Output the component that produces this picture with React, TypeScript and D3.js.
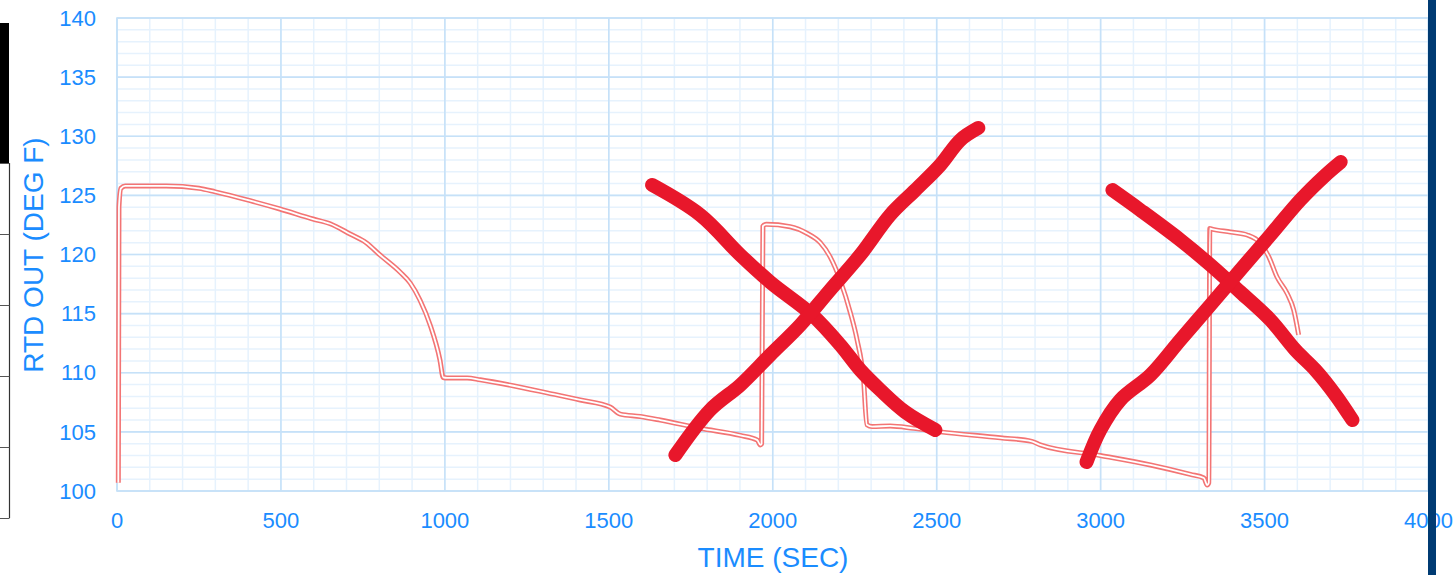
import React from 'react'
import * as d3 from 'd3'

const width = 1455
const height = 575
const margin = { top: 18, right: 26.5, bottom: 84, left: 117 }

// RTD trace
const timeSec = [
  4, 6, 12, 25, 150, 250, 300, 406, 497, 598, 650, 711, 760, 802, 863, 894, 924, 955, 985, 995,
  1007, 1068, 1108, 1208, 1312, 1413, 1504, 1535, 1596, 1657, 1779, 1901, 1953, 1962, 1966,
  1970, 1980, 2053, 2104, 2145, 2175, 2206, 2237, 2257, 2277, 2287, 2303, 2358, 2429, 2511,
  2694, 2790, 2816, 2999, 3152, 3274, 3315, 3325, 3330, 3333, 3340, 3396, 3447, 3487, 3513,
  3538, 3569, 3589, 3604,
]
const rtdOut = [
  100.7, 124, 125.6, 125.8, 125.8, 125.6, 125.3, 124.55, 123.85, 123.0, 122.6, 121.73, 121.0,
  119.96, 118.52, 117.6, 116.15, 114.04, 111.08, 109.6, 109.56, 109.56, 109.4, 108.9, 108.3,
  107.7, 107.1, 106.5, 106.3, 106.0, 105.3, 104.7, 104.3, 103.9, 104.0, 122.4, 122.55, 122.35,
  121.8, 121.0, 119.8, 117.8, 115.05, 112.8, 109.4, 105.6, 105.45, 105.5, 105.3, 105.0, 104.5,
  104.2, 103.9, 103.0, 102.2, 101.4, 101.1, 100.5, 100.7, 122.2, 122.15, 121.9, 121.65, 120.97,
  119.8, 118.1, 116.7, 115.3, 113.2,
]

// hand-drawn red crosses (data units)
const cross1DownT = [1632, 1779, 1901, 1992, 2121, 2206, 2267, 2328, 2404, 2496]
const cross1DownV = [125.88, 123.34, 119.96, 117.67, 114.88, 112.35, 110.23, 108.54, 106.68, 105.16]
const cross1UpT = [1703, 1809, 1901, 1992, 2084, 2175, 2267, 2358, 2435, 2511, 2572, 2627]
const cross1UpV = [103.04, 106.85, 108.96, 111.5, 114.04, 117.0, 119.96, 123.34, 125.45, 127.57, 129.68, 130.7]
const cross2DownT = [3036, 3121, 3243, 3335, 3426, 3518, 3594, 3655, 3716, 3768]
const cross2DownV = [125.45, 123.76, 121.23, 119.11, 116.83, 114.46, 111.92, 110.23, 108.12, 106.0]
const cross2UpT = [2957, 2999, 3060, 3152, 3243, 3335, 3426, 3518, 3609, 3686, 3732]
const cross2UpV = [102.45, 105.16, 107.7, 109.81, 112.77, 115.73, 118.69, 121.65, 124.61, 126.72, 127.82]

const xTicks = [0, 500, 1000, 1500, 2000, 2500, 3000, 3500, 4000]
const yTicks = [100, 105, 110, 115, 120, 125, 130, 135, 140]

const blue = '#1a8cff'
const font = 'Liberation Sans, Arial, sans-serif'

const App = () => {
  const x = d3.scaleLinear().domain([0, 4000]).range([margin.left, width - margin.right])
  const y = d3.scaleLinear().domain([100, 140]).range([height - margin.bottom, margin.top])

  const line = d3
    .line<number>()
    .x((d, i) => x(timeSec[i]))
    .y((d) => y(d))
    .curve(d3.curveMonotoneX)
  const tracePath = line(rtdOut)

  const crossLine = (ts: number[], vs: number[]) =>
    d3
      .line<number>()
      .x((d, i) => x(ts[i]))
      .y((d) => y(d))
      .curve(d3.curveCatmullRom)(vs)

  const minorX = d3.range(0, 4001, 100)
  const minorY = d3.range(100, 141, 1)
  const tableRows = d3.range(0, 6)

  return (
    <svg
      width={width}
      height={height}
      style={{ position: 'absolute', left: 0, top: 0, background: '#fff' }}
    >
      {/* left table fragment */}
      <rect x={0} y={23} width={9} height={140} fill="#000" />
      <line x1={9.5} x2={9.5} y1={163} y2={518} stroke="#333" strokeWidth={1.2} />
      {tableRows.map((i) => (
        <line key={i} x1={0} x2={9.5} y1={163.5 + i * 71} y2={163.5 + i * 71} stroke="#555" strokeWidth={1} />
      ))}

      {/* grid */}
      <g>
        {minorX.map((t) => (
          <line key={'mx' + t} x1={x(t)} x2={x(t)} y1={y(140)} y2={y(100)} stroke="#e6f2fd" strokeWidth={1.5} />
        ))}
        {minorY.map((v) => (
          <line key={'my' + v} x1={x(0)} x2={x(4000)} y1={y(v)} y2={y(v)} stroke="#e6f2fd" strokeWidth={1.5} />
        ))}
        {xTicks.map((t) => (
          <line key={'Mx' + t} x1={x(t)} x2={x(t)} y1={y(140)} y2={y(100)} stroke="#c6e1f8" strokeWidth={1.6} />
        ))}
        {yTicks.map((v) => (
          <line key={'My' + v} x1={x(0)} x2={x(4000)} y1={y(v)} y2={y(v)} stroke="#c6e1f8" strokeWidth={1.6} />
        ))}
        <rect
          x={x(0)}
          y={y(140)}
          width={x(4000) - x(0)}
          height={y(100) - y(140)}
          fill="none"
          stroke="#c6e1f8"
          strokeWidth={1.6}
        />
      </g>

      {/* trace drawn as a double line */}
      <path d={tracePath || ''} fill="none" stroke="#f37474" strokeWidth={5} strokeLinejoin="round" />
      <path d={tracePath || ''} fill="none" stroke="#fff" strokeWidth={1.8} strokeLinejoin="round" />

      {/* tick labels */}
      {yTicks.map((v) => (
        <text
          key={'yt' + v}
          x={96}
          y={y(v)}
          dy="0.35em"
          textAnchor="end"
          fill={blue}
          fontFamily={font}
          fontSize={22}
        >
          {v}
        </text>
      ))}
      {xTicks.map((t) => (
        <text key={'xt' + t} x={x(t)} y={528} textAnchor="middle" fill={blue} fontFamily={font} fontSize={22}>
          {t}
        </text>
      ))}

      {/* axis titles */}
      <text x={773} y={567} textAnchor="middle" fill={blue} fontFamily={font} fontSize={28}>
        TIME (SEC)
      </text>
      <text
        transform="translate(43,255) rotate(-90)"
        textAnchor="middle"
        fill={blue}
        fontFamily={font}
        fontSize={28}
      >
        RTD OUT (DEG F)
      </text>

      {/* red crosses */}
      {[
        [cross1DownT, cross1DownV],
        [cross1UpT, cross1UpV],
        [cross2DownT, cross2DownV],
        [cross2UpT, cross2UpV],
      ].map((c, i) => (
        <path
          key={'cross' + i}
          d={crossLine(c[0], c[1]) || ''}
          fill="none"
          stroke="#e8172b"
          strokeWidth={14}
          strokeLinecap="round"
          strokeLinejoin="round"
        />
      ))}

      {/* dark bar on the right */}
      <rect x={1428} y={0} width={8} height={height} fill="#003b73" />
    </svg>
  )
}

export default App
